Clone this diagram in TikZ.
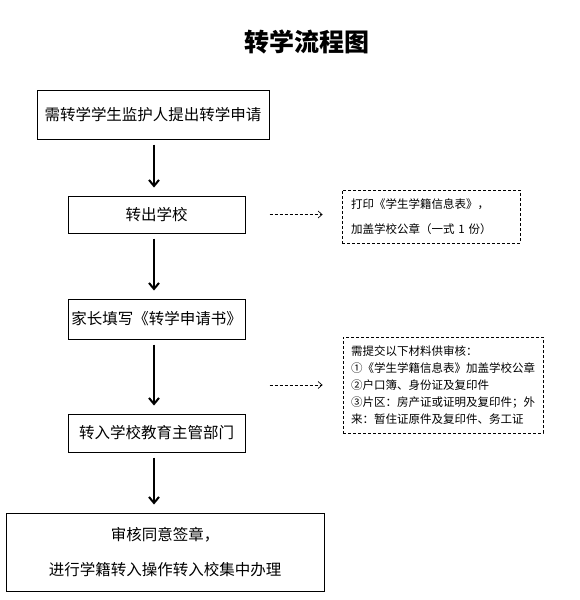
\documentclass[tikz,border=0pt]{standalone}
\usepackage{fontspec}
\setmainfont{Noto Sans CJK SC}
\usetikzlibrary{arrows.meta}

\begin{document}
\begin{tikzpicture}[x=1pt, y=-1pt,
  stepbox/.style={draw, line width=1pt, inner sep=0pt, align=center,
    font=\fontsize{15.5}{35}\selectfont},
  notebox/.style={draw, line width=0.8pt, dash pattern=on 3pt off 2pt,
    inner sep=0pt, align=left},
  flow/.style={line width=2pt, -{Straight Barb[length=6pt,width=10pt]},
    shorten <=5pt, shorten >=8pt},
  hint/.style={line width=0.7pt, dash pattern=on 3pt off 2pt,
    -{Straight Barb[length=4pt,width=7pt]}}]
\useasboundingbox (0,0) rectangle (580,600);
\node[font=\fontsize{25}{25}\selectfont\bfseries] (title) at (307,42) {转学流程图};
% main steps
\node[stepbox, minimum width=232, minimum height=49] (apply) at (153,114.5) {需转学学生监护人提出转学申请};
\node[stepbox, minimum width=177, minimum height=37] (out) at (156.5,214.5) {转出学校};
\node[stepbox, minimum width=177, minimum height=40] (form) at (156.5,319) {家长填写《转学申请书》};
\node[stepbox, minimum width=177, minimum height=38] (bureau) at (156.5,433) {转入学校教育主管部门};
\node[stepbox, minimum width=318, minimum height=78] (done) at (165,552) {审核同意签章，\\进行学籍转入操作转入校集中办理};
% side notes
\node[notebox, minimum width=178, minimum height=53, text width=160,
  font=\fontsize{11.5}{25}\selectfont] (note1) at (431,216.5)
  {打印《学生学籍信息表》，\\加盖学校公章（一式 1 份）};
\node[notebox, minimum width=200, minimum height=96, text width=184,
  font=\fontsize{11.5}{16.8}\selectfont] (note2) at (443,385)
  {需提交以下材料供审核：\\①《学生学籍信息表》加盖学校公章\\②户口簿、身份证及复印件\\③片区：房产证或证明及复印件；外\\来：暂住证原件及复印件、务工证};
% connectors
\foreach \a/\b in {apply/out, out/form, form/bureau, bureau/done}
  \draw[flow] (154,0 |- \a.south) -- (154,0 |- \b.north);
\draw[hint, shorten <=24pt, shorten >=19pt] (out.east) -- (note1.west |- out.east);
\draw[hint, shorten <=24pt, shorten >=20pt] (bureau.east |- note2.west) -- (note2.west);
\end{tikzpicture}
\end{document}
